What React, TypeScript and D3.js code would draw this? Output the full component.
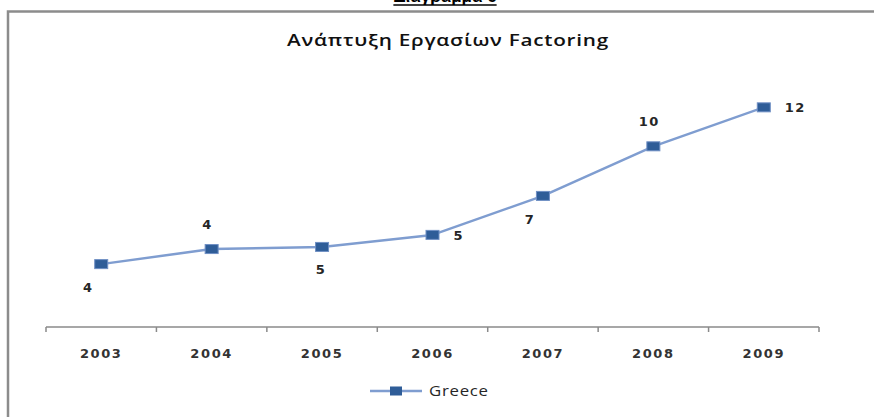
import { useEffect, useRef } from 'react';
import * as d3 from 'd3';

const years = ['2003', '2004', '2005', '2006', '2007', '2008', '2009'];
const greece = [3.55, 4.4, 4.52, 5.2, 7.4, 10.2, 12.4];
// where each data label sits relative to its marker
const labelPlacement = ['belowLeft', 'above', 'below', 'right', 'belowLeft', 'above', 'right'];
const seriesName = 'Greece';
const chartTitle = 'Ανάπτυξη Εργασίων Factoring';
const captionText = 'Διάγραμμα 6';

const W = 874;
const H = 417;

export default function App() {
  const svgRef = useRef<SVGSVGElement>(null);

  useEffect(() => {
    if (!svgRef.current) return;
    const svg = d3.select(svgRef.current);
    svg.selectAll('*').remove();

    const lineColor = '#7f9dd0';
    const markerColor = '#2f5d98';
    const textColor = '#262626';
    const numFont = '"DejaVu Sans", Verdana, sans-serif';
    const textFont = '"Open Sans", "Noto Sans", sans-serif';

    svg.append('rect').attr('width', W).attr('height', H).attr('fill', '#fff');

    // caption above frame (cut off at the top, as in the source)
    const cap = svg.append('text')
      .attr('x', 445)
      .attr('y', 2)
      .attr('text-anchor', 'middle')
      .style('font-family', '"Liberation Sans", Arial, sans-serif')
      .style('font-weight', 'bold')
      .style('font-size', '17px')
      .attr('fill', '#000')
      .text(captionText);
    const capBox = (cap.node() as SVGTextElement).getBBox();
    svg.append('line')
      .attr('x1', capBox.x).attr('x2', capBox.x + capBox.width)
      .attr('y1', 5).attr('y2', 5)
      .attr('stroke', '#000').attr('stroke-width', 1.5);

    // frame
    svg.append('path')
      .attr('d', `M8,${H + 5} V11.5 H${W + 5}`)
      .attr('fill', 'none')
      .attr('stroke', '#8c8c8c')
      .attr('stroke-width', 2.5);

    // title (horizontally stretched like the source image)
    svg.append('g')
      .attr('transform', 'translate(448,46) scale(1.22,1)')
      .append('text')
      .attr('text-anchor', 'middle')
      .style('font-family', textFont)
      .style('font-weight', 600)
      .style('font-size', '17px')
      .style('letter-spacing', '0.6px')
      .attr('fill', '#111')
      .text(chartTitle);

    const x = d3.scaleBand<string>().domain(years).range([46, 819]).padding(0);
    const y = d3.scaleLinear().domain([0, 14]).range([327, 79]);
    const cx = (d: string) => (x(d) ?? 0) + x.bandwidth() / 2;

    // category axis with ticks between categories
    const axis = svg.append('g').attr('stroke', '#8a8a8a').attr('stroke-width', 1.5);
    axis.append('line')
      .attr('x1', x.range()[0]).attr('x2', x.range()[1])
      .attr('y1', y(0)).attr('y2', y(0));
    const edges = [...years.map(d => x(d) ?? 0), x.range()[1]];
    axis.selectAll('line.tick')
      .data(edges)
      .enter()
      .append('line')
      .attr('class', 'tick')
      .attr('x1', d => d).attr('x2', d => d)
      .attr('y1', y(0)).attr('y2', y(0) + 5);

    svg.selectAll('text.year')
      .data(years)
      .enter()
      .append('text')
      .attr('class', 'year')
      .attr('x', d => cx(d))
      .attr('y', 358)
      .attr('text-anchor', 'middle')
      .style('font-family', numFont)
      .style('font-weight', 'bold')
      .style('font-size', '13px')
      .style('letter-spacing', '1.6px')
      .attr('fill', '#333')
      .text(d => d);

    // series line
    const pts = years.map((d, i) => ({ year: d, v: greece[i], place: labelPlacement[i] }));
    const line = d3.line<{ year: string; v: number }>()
      .x(d => cx(d.year))
      .y(d => y(d.v));
    svg.append('path')
      .datum(pts)
      .attr('fill', 'none')
      .attr('stroke', lineColor)
      .attr('stroke-width', 2.5)
      .attr('stroke-linejoin', 'round')
      .attr('d', line);

    svg.selectAll('rect.marker')
      .data(pts)
      .enter()
      .append('rect')
      .attr('class', 'marker')
      .attr('x', d => cx(d.year) - 6.5)
      .attr('y', d => y(d.v) - 4.5)
      .attr('width', 13)
      .attr('height', 9)
      .attr('fill', markerColor)
      .attr('stroke', '#6f8fc4')
      .attr('stroke-width', 1);

    const offsets: Record<string, [number, number, string]> = {
      above: [-4, -20, 'middle'],
      below: [-1, 27, 'middle'],
      belowLeft: [-13, 28, 'middle'],
      right: [21, 5, 'start'],
    };
    const fmt = d3.format('.0f');
    svg.selectAll('text.dlabel')
      .data(pts)
      .enter()
      .append('text')
      .attr('class', 'dlabel')
      .attr('x', d => cx(d.year) + offsets[d.place][0])
      .attr('y', d => y(d.v) + offsets[d.place][1])
      .attr('text-anchor', d => offsets[d.place][2])
      .style('font-family', numFont)
      .style('font-weight', 'bold')
      .style('font-size', '13px')
      .style('letter-spacing', '1.5px')
      .attr('fill', textColor)
      .text(d => fmt(d.v));

    // legend
    const lg = svg.append('g').attr('transform', 'translate(370,391)');
    lg.append('line')
      .attr('x1', 0).attr('x2', 52)
      .attr('y1', 0).attr('y2', 0)
      .attr('stroke', lineColor).attr('stroke-width', 2.5);
    lg.append('rect')
      .attr('x', 20).attr('y', -4.5)
      .attr('width', 12).attr('height', 9)
      .attr('fill', markerColor);
    lg.append('g')
      .attr('transform', 'translate(59,5) scale(1.2,1)')
      .append('text')
      .style('font-family', textFont)
      .style('font-size', '14px')
      .style('letter-spacing', '0.6px')
      .attr('fill', textColor)
      .text(seriesName);
  }, []);

  return (
    <svg
      ref={svgRef}
      width={W}
      height={H}
      style={{ position: 'absolute', left: 0, top: 0, display: 'block' }}
    />
  );
}
